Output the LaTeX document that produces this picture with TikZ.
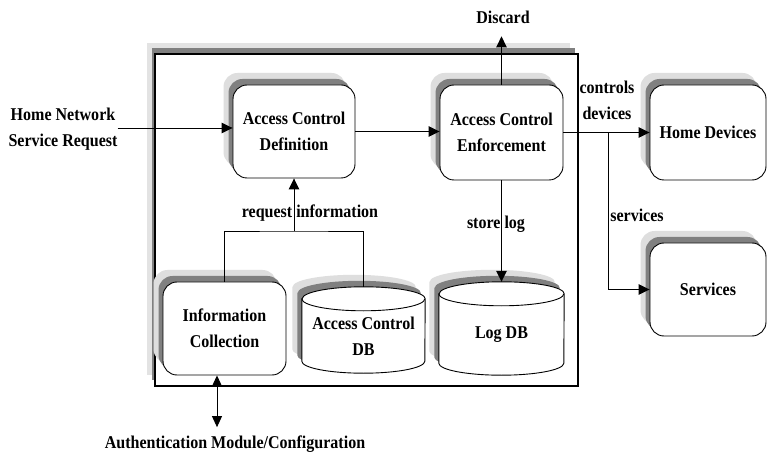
\documentclass[tikz,border=0pt]{standalone}
\usepackage{fontspec}
\setmainfont{Liberation Serif}[FakeStretch=0.89]
\usetikzlibrary{arrows.meta,shadows,calc}

\pgfdeclarelayer{framelayer}
\pgfdeclarelayer{bodylayer}
\pgfsetlayers{framelayer,bodylayer,main}

\tikzset{
  txt/.style={font=\bfseries\fontsize{18}{26}\selectfont, align=center, inner sep=0pt},
  twoshadow/.style={
    general shadow={shadow xshift=-9.5pt, shadow yshift=12pt, fill=black!13},
    general shadow={shadow xshift=-4.5pt, shadow yshift=6pt, fill=black!50}},
  frameshadow/.style={
    general shadow={shadow xshift=-8pt, shadow yshift=11pt, fill=black!11},
    general shadow={shadow xshift=-3.5pt, shadow yshift=6pt, fill=black!50}},
  rbox/.style={txt, draw, line width=0.9pt, fill=white, rounded corners=14pt, twoshadow},
  cylbody/.style={txt},
  link/.style={line width=0.9pt},
  arr/.style={link, -{Triangle[length=11pt,width=10.5pt]}},
  darr/.style={link, {Triangle[length=11pt,width=10pt]}-{Triangle[length=11pt,width=10pt]}},
}

% database drum around the body node #1: options #2, half width #3, offset #4
\newcommand\cylpath[4]{%
  \path[#2] ($(#1.north west)+#4$) -- ($(#1.south west)+(0,12)+#4$)
    arc[start angle=180,end angle=360,x radius=#3,y radius=12]
    -- ($(#1.north east)+#4$)
    arc[start angle=0,end angle=180,x radius=#3,y radius=12] -- cycle;}
\newcommand\drum[2]{%
  \cylpath{#1}{fill=black!13}{#2}{(-9.5,12)}
  \cylpath{#1}{fill=black!50}{#2}{(-4.5,6)}
  \cylpath{#1}{draw,fill=white,line width=0.9pt}{#2}{(0,0)}
  \draw[line width=0.9pt] (#1.north west)
    arc[start angle=180,end angle=360,x radius=#2,y radius=12];}

\begin{document}
\begin{tikzpicture}[x=1pt,y=1pt]
\useasboundingbox (0,0) rectangle (768,-462);

% enclosing frame
\begin{pgfonlayer}{framelayer}
  \node[draw, line width=1.2pt, fill=white, frameshadow,
        minimum width=423pt, minimum height=332pt] (frame) at (366.5,-220) {};
\end{pgfonlayer}

% process boxes
\node[rbox, minimum width=122pt, minimum height=93pt] (def) at (294,-131.5) {Access Control\\Definition};
\node[rbox, minimum width=123pt, minimum height=95pt] (enf) at (501.5,-132.5) {Access Control\\Enforcement};
\node[rbox, minimum width=116pt, minimum height=95pt] (home) at (708,-132.5) {Home Devices};
\node[rbox, minimum width=116pt, minimum height=93pt] (services) at (708,-289.5) {Services};
\node[rbox, minimum width=123pt, minimum height=93pt] (info) at (224.5,-328.5) {Information\\Collection};

% databases
\node[cylbody, minimum width=123pt, minimum height=74pt] (acdb) at (363.5,-336) {Access Control\\DB};
\node[cylbody, minimum width=125pt, minimum height=81pt] (ldb) at (501.5,-334.5) {Log DB};
\begin{pgfonlayer}{bodylayer}
  \drum{acdb}{61.5}
  \drum{ldb}{62.5}
\end{pgfonlayer}

% free labels
\node[txt] (hn) at (63,-129) {Home Network\\Service Request};
\node[txt, anchor=base, inner ysep=12pt] (discard) at (503,-24) {Discard};
\node[txt] (ctl) at (607,-100) {controls\\devices};
\node[txt] (svl) at (637,-215) {services};
\node[txt] (stl) at (496,-224) {store log};
\node[txt] (rql) at (310,-213) {request information};
\node[txt, anchor=base, inner ysep=8pt] (auth) at (235,-448) {Authentication Module/Configuration};

% connectors
\coordinate (hnin) at ([yshift=3.5pt]def.west);
\draw[arr] (hn.east |- hnin) -- (hnin);
\draw[arr] (def.east) -- (def.east -| enf.west);
\draw[arr] (enf.north) -- (enf.north |- discard.south);
\draw[arr] (enf.east) -- (enf.east -| home.west);
\coordinate (br) at ($(enf.east)!0.517!(enf.east -| home.west)$);
\draw[arr] (br) |- (services.west);
\draw[arr] (enf.south) -- ($(ldb.north)+(0,12)$);
\coordinate (rq) at (def.south |- 0,-231);
\draw[link] (info.north) |- (rq) -| ($(acdb.north)+(0,12)$);
\draw[arr] (rq) -- (def.south);
\coordinate (authtop) at ([xshift=-7.5pt]info.south);
\draw[darr] (authtop) -- (authtop |- auth.north);
\end{tikzpicture}
\end{document}
